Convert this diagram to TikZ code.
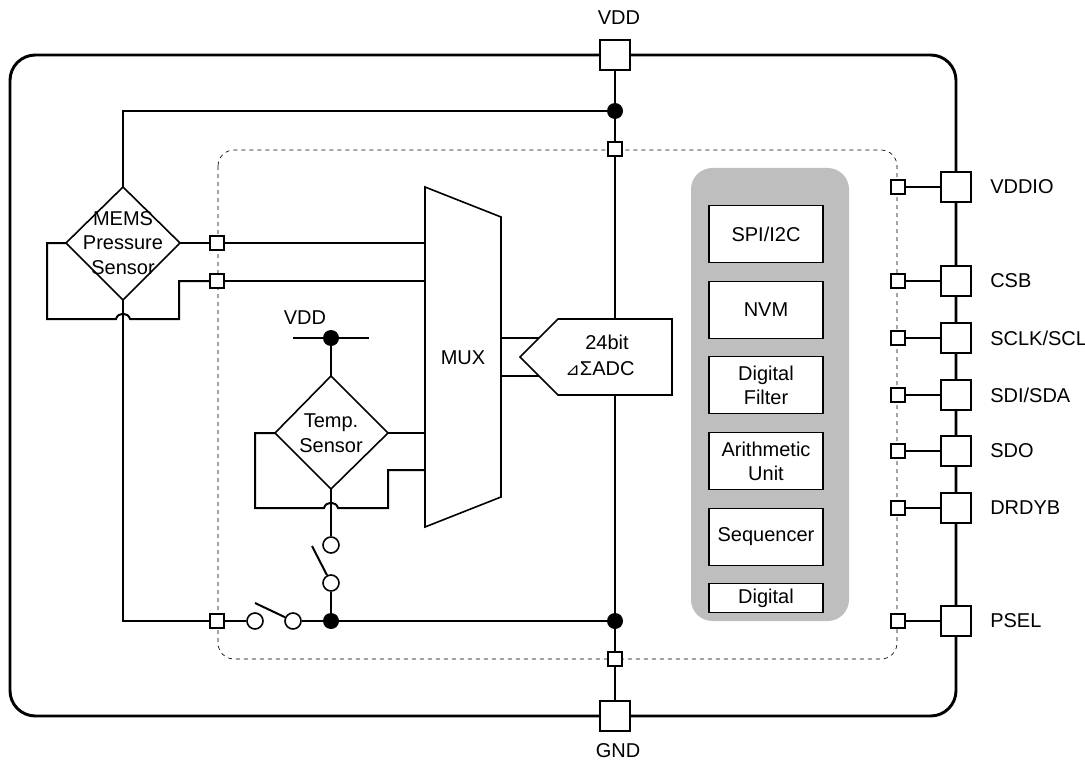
\documentclass[tikz,border=0pt]{standalone}
\usepackage{fontspec}
\setmainfont{Liberation Sans}
\newfontfamily\symfont{DejaVu Sans}
\usetikzlibrary{positioning}
\definecolor{panelgray}{RGB}{190,190,190}
\tikzset{
    wire/.style={line width=1.5pt, line join=miter},
    pad/.style={draw, fill=white, line width=1.5pt, minimum size=22.5pt, inner sep=0pt},
    pin/.style={draw, fill=white, line width=1.2pt, minimum size=10.5pt, inner sep=0pt},
    dot/.style={circle, fill=black, minimum size=12pt, inner sep=0pt},
    contact/.style={circle, draw, fill=white, line width=1.2pt, minimum size=12pt, inner sep=0pt},
    sensor/.style={align=center, inner sep=0pt, font=\fontsize{15}{18.5}\selectfont},
    txt/.style={font=\fontsize{15}{18}\selectfont, inner sep=0pt},
    block/.style={draw, fill=white, line width=1pt, minimum width=85.5pt, align=center, inner sep=0pt, font=\fontsize{15}{18}\selectfont}
}
\begin{document}
\begin{tikzpicture}[x=0.75pt, y=-0.75pt]
    \useasboundingbox (0, 0) rectangle (1085, 763);

    \draw [line width=2.2pt, rounded corners=19pt] (10, 55) rectangle (956, 716);
    \draw [dashed, line width=0.5pt, rounded corners=12pt] (218, 150) rectangle (897, 659);

    % gray panel
    \fill [panelgray, rounded corners=16pt] (691, 168) rectangle (849, 621);
    \node [block, minimum height=42.5pt] (spi) at (766, 234) {SPI/I2C};
    \node [block, minimum height=42.5pt] (nvm) at (766, 310) {NVM};
    \node [block, minimum height=42.5pt] (filter) at (766, 385) {Digital\\Filter};
    \node [block, minimum height=42.5pt] (arith) at (766, 461) {Arithmetic\\Unit};
    \node [block, minimum height=42.5pt] (seq) at (766, 537) {Sequencer};
    \node [block, minimum height=22pt] (digital) at (766, 598) {Digital};

    % pads
    \node [pad] (vddPad) at (615, 55) {};
    \node [pad] (gndPad) at (615, 716) {};
    \node [txt] (vddLabel) at (619, 18) {VDD};
    \node [txt] (gndLabel) at (618, 751) {GND};

    \foreach \nm/\y/\lbl in {vddio/187/VDDIO, csb/281/CSB, sclk/338/SCLK/SCL, sdi/395/SDI/SDA, sdo/451/SDO, drdyb/508/DRDYB, psel/621/PSEL} {
        \node [pad] (\nm Pad) at (956, \y) {};
        \node [pin] (\nm Pin) at (898, \y) {};
        \draw [wire] (\nm Pin) -- (\nm Pad);
    }
    \node [txt, anchor=west] (vddioLabel) at (990, 187) {VDDIO};
    \node [txt, anchor=west] (csbLabel) at (990, 281) {CSB};
    \node [txt, anchor=west] (sclkLabel) at (990, 338) {SCLK/SCL};
    \node [txt, anchor=west] (sdiLabel) at (990, 395) {SDI/SDA};
    \node [txt, anchor=west] (sdoLabel) at (990, 451) {SDO};
    \node [txt, anchor=west] (drdybLabel) at (990, 508) {DRDYB};
    \node [txt, anchor=west] (pselLabel) at (990, 621) {PSEL};

    % pins and dots
    \node [pin] (topPin) at (615, 149) {};
    \node [pin] (botPin) at (615, 659) {};
    \node [pin] (memsPinA) at (217, 243) {};
    \node [pin] (memsPinB) at (217, 281) {};
    \node [pin] (gndPin) at (217, 621) {};
    \node [dot] (vddDot) at (615, 111) {};
    \node [dot] (gndDot) at (615, 621) {};
    \node [dot] (switchDot) at (331, 621) {};
    \node [dot] (tempDot) at (331, 338) {};

    % MUX and ADC
    \draw [wire, line width=1.2pt] (425, 187) -- (501, 217) -- (501, 497) -- (425, 527) -- cycle;
    \node [txt] (muxLabel) at (463, 358) {MUX};
    \coordinate (adcTip) at (520, 357);
    \coordinate (adcTop) at (615, 319);
    \coordinate (adcBot) at (615, 395);
    \draw [wire] (501, 338) -- (539, 338);
    \draw [wire] (501, 376) -- (539, 376);
    \draw [wire, line width=1.2pt, fill=white] (adcTip) -- (558, 319) -- (672, 319) -- (672, 395) -- (558, 395) -- cycle;
    \node [txt] (adcA) at (607, 342) {24bit};
    \node [txt] (adcB) at (600, 369) {{\symfont\fontsize{13}{18}\selectfont ⊿}ΣADC};

    % main rail
    \draw [wire] (vddPad) -- (vddDot) -- (topPin) -- (adcTop);
    \draw [wire] (adcBot) -- (gndDot) -- (botPin) -- (gndPad);

    % MEMS sensor
    \coordinate (memsT) at (123, 187);
    \coordinate (memsL) at (66, 243);
    \coordinate (memsR) at (180, 243);
    \coordinate (memsB) at (123, 300);
    \draw [wire, line width=1.2pt] (memsT) -- (memsR) -- (memsB) -- (memsL) -- cycle;
    \node [sensor] (mems) at (123, 243) {MEMS\\Pressure\\Sensor};
    \draw [wire] (vddDot) -- (123, 111) -- (memsT);
    \draw [wire] (memsR) -- (memsPinA) -- (425, 243);
    \draw [wire] (memsL) -- (47, 243) -- (47, 319) -- (116, 319) .. controls (118, 312) and (128, 312) .. (130, 319) -- (179, 319) -- (179, 281) -- (memsPinB);
    \draw [wire] (memsPinB) -- (425, 281);
    \draw [wire] (memsB) -- (123, 621) -- (gndPin);

    % Temp sensor
    \coordinate (tempT) at (331, 376);
    \coordinate (tempL) at (275, 433);
    \coordinate (tempR) at (388, 433);
    \coordinate (tempB) at (331, 489);
    \draw [wire, line width=1.2pt] (tempT) -- (tempR) -- (tempB) -- (tempL) -- cycle;
    \node [sensor] (temp) at (331, 433) {Temp.\\Sensor};
    \draw [wire] (293, 338) -- (369, 338);
    \node [txt] (tempVdd) at (305, 318) {VDD};
    \draw [wire] (tempDot) -- (tempT);
    \draw [wire] (tempR) -- (425, 433);
    \draw [wire] (tempL) -- (255, 433) -- (255, 508) -- (324, 508) .. controls (326, 501) and (336, 501) .. (338, 508) -- (388, 508) -- (388, 470) -- (425, 470);

    % switches
    \node [contact] (swA) at (331, 545) {};
    \node [contact] (swB) at (331, 583) {};
    \node [contact] (swC) at (255, 621) {};
    \node [contact] (swD) at (293, 621) {};
    \coordinate (armA) at (312, 546);
    \coordinate (armB) at (255, 603);
    \draw [wire] (tempB) -- (swA);
    \draw [wire] (swB) -- (switchDot);
    \draw [wire] (swB) -- (armA);
    \draw [wire] (swD) -- (armB);
    \draw [wire] (gndPin) -- (swC);
    \draw [wire] (swD) -- (switchDot) -- (gndDot);
\end{tikzpicture}
\end{document}
